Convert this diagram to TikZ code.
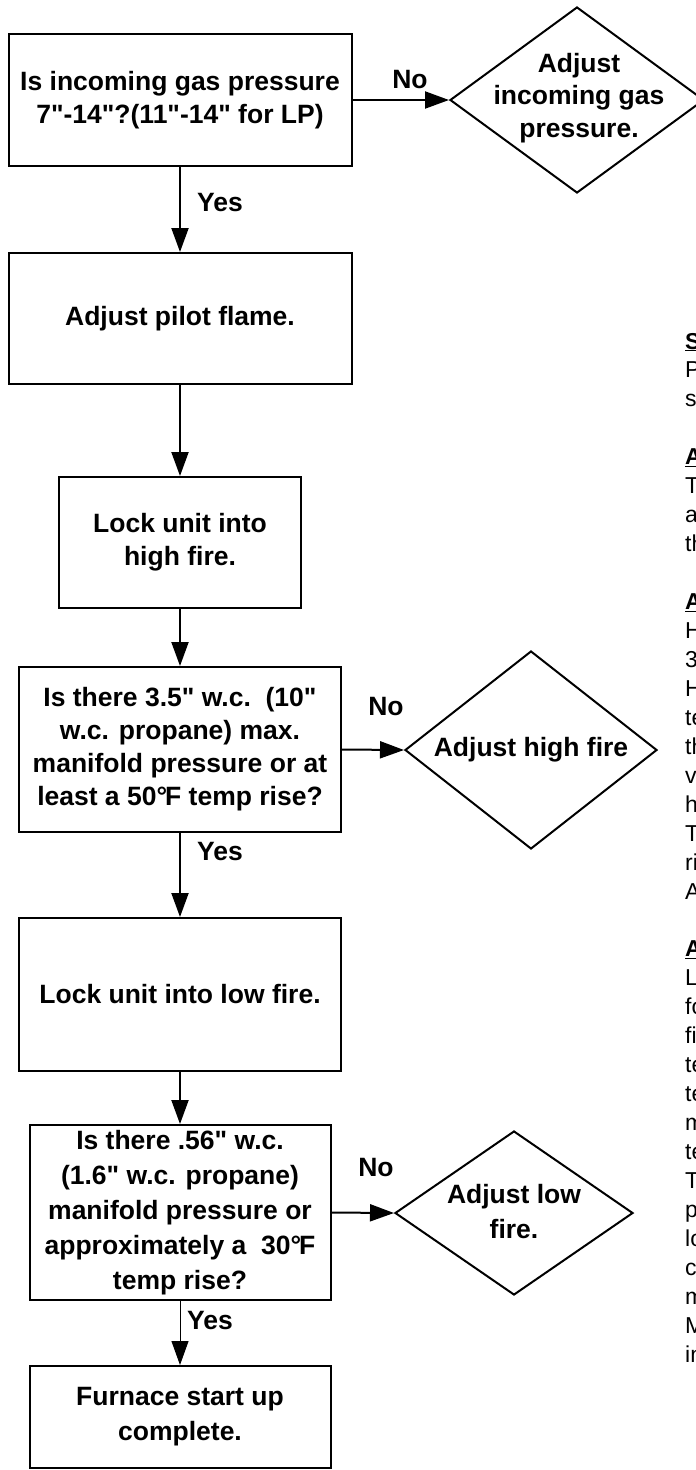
\documentclass[tikz,border=0pt]{standalone}
\usepackage{fontspec}
\setmainfont{Liberation Sans}[Ligatures=TeXOff]
\usetikzlibrary{arrows.meta,shapes.geometric}
\begin{document}
\begin{tikzpicture}[x=1pt,y=-1pt,
  bfont/.style={font=\bfseries\fontsize{26.5}{33}\selectfont},
  box/.style={draw, line width=2pt, inner sep=0pt, align=center, bfont},
  dia/.style={draw, diamond, line width=2pt, inner sep=0pt},
  dtext/.style={align=center, inner sep=0pt, bfont},
  lbl/.style={inner sep=0pt, bfont},
  arr/.style={line width=2pt, -{Triangle[length=24pt,width=17pt]}},
  thinarr/.style={line width=1pt, -{Triangle[length=24pt,width=17pt]}},
  body/.style={anchor=base west, inner sep=0pt, font=\fontsize{23}{29}\selectfont},
  head/.style={anchor=base west, inner sep=0pt, font=\bfseries\fontsize{23}{29}\selectfont}]
\useasboundingbox (0,0) rectangle (696,1470);
\clip (0,0) rectangle (696,1470);
\fill[white] (0,0) rectangle (696,1470);

% boxes
\node[box, minimum width=343pt, minimum height=132pt] (b1) at (180,100)
  {Is incoming gas pressure\\7"-14"?(11"-14" for LP)};
\node[box, minimum width=343pt, minimum height=131pt] (b2) at (180,318.5)
  {Adjust pilot flame.};
\node[box, minimum width=242pt, minimum height=131pt] (b3) at (180,542.5)
  {Lock unit into\\high fire.};
\node[box, minimum width=322pt, minimum height=165pt] (b4) at (180,749.5)
  {Is there 3.5" w.c.\ \ (10"\\w.c. propane) max.\\manifold pressure or at\\least a 50°\kern-2ptF temp rise?};
\node[box, minimum width=322pt, minimum height=153pt] (b5) at (180,994.5)
  {Lock unit into low fire.};
\node[box, minimum width=301pt, minimum height=175pt, font=\bfseries\fontsize{26.5}{35}\selectfont] (b6) at (180,1212.5)
  {Is there .56" w.c.\\(1.6" w.c. propane)\\manifold pressure or\\approximately a\ \ 30°\kern-2ptF\\temp rise?};
\node[box, minimum width=301pt, minimum height=102pt, font=\bfseries\fontsize{26.5}{35}\selectfont] (b7) at (180,1417)
  {Furnace start up\\complete.};

% diamonds
\node[dia, minimum width=254pt, minimum height=186pt] (d1) at (577,100) {};
\node[dtext, font=\bfseries\fontsize{26.5}{32.5}\selectfont] (t1) at (579,98) {Adjust\\incoming gas\\pressure.};
\node[dia, minimum width=252pt, minimum height=198pt] (d2) at (531,750) {};
\node[dtext] (t2) at (d2.center) {Adjust high fire};
\node[dia, minimum width=238pt, minimum height=164pt] (d3) at (514,1213) {};
\node[dtext, font=\bfseries\fontsize{26.5}{35}\selectfont] (t3) at (514,1212) {Adjust low\\fire.};

% connectors
\draw[arr] (b1.east) -- (d1.west);
\draw[arr] (b1.south) -- (b2.north);
\draw[arr] (b2.south) -- (b3.north);
\draw[arr] (b3.south) -- (b4.north);
\draw[arr] (b4.east) -- (d2.west);
\draw[arr] (b4.south) -- (b5.north);
\draw[arr] (b5.south) -- (b6.north);
\draw[arr] (b6.east) -- (d3.west);
\draw[thinarr] (b6.south) -- (b7.north);

% labels
\node[lbl] (n1) at (410,80) {No};
\node[lbl] (y1) at (220,203) {Yes};
\node[lbl] (n2) at (386,707) {No};
\node[lbl] (y2) at (220,852) {Yes};
\node[lbl] (n3) at (376,1167) {No};
\node[lbl] (y3) at (210,1320) {Yes};

% right-hand text column (cut off at the edge, as in the reference)
\foreach \i/\t in {0/S,4/A,9/A,21/A}
  \node[head] (h\i) at (685,349+28.95*\i) {\underline{\t\hbox to 14pt{}}};
\foreach \i/\t in {1/P,2/s,5/T,6/a,7/th,10/H,11/3,12/H,13/te,14/th,15/v,16/h,17/T,18/ri,19/A,
  22/L,23/fo,24/fi,25/te,26/te,27/m,28/te,29/T,30/p,31/lo,32/c,33/m,34/M,35/in}
  \node[body] (r\i) at (685,349+28.95*\i) {\t};
\end{tikzpicture}
\end{document}
